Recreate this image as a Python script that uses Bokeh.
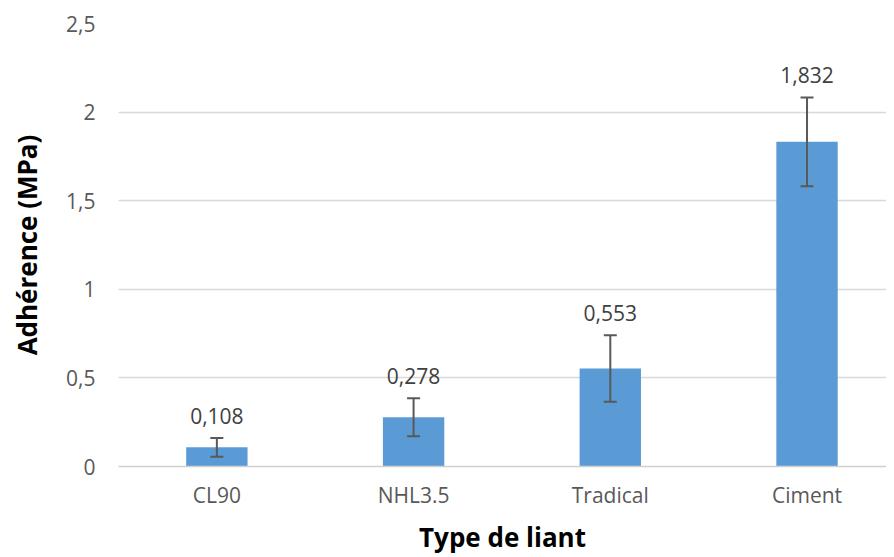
from bokeh.plotting import figure
from bokeh.models import ColumnDataSource, Range1d, FixedTicker, Whisker, TeeHead
from bokeh.core.properties import value
from bokeh.embed import file_html
from bokeh.resources import INLINE

categories = ["CL90", "NHL3.5", "Tradical", "Ciment"]
adherence = [0.108, 0.278, 0.553, 1.832]
errors = [0.053, 0.107, 0.187, 0.251]
y_ticks = [0, 0.5, 1, 1.5, 2, 2.5]

FONT = "Open Sans"
x = list(range(len(categories)))
src = ColumnDataSource(dict(
    x=x,
    top=adherence,
    lower=[v - e for v, e in zip(adherence, errors)],
    upper=[v + e for v, e in zip(adherence, errors)],
    label=[f"{v:.3f}".replace(".", ",") for v in adherence],
))

p = figure(width=886, height=557, output_backend="svg", toolbar_location=None,
           x_range=Range1d(-0.5, 3.404), y_range=Range1d(0, 2.5),
           min_border_left=118, min_border_right=0, min_border_top=23, min_border_bottom=90)
p.outline_line_color = None
p.background_fill_color = "white"

p.vbar(x="x", top="top", width=0.312, source=src, fill_color="#5B9BD5", line_color=None)

w = Whisker(source=src, base="x", lower="lower", upper="upper",
            line_color="#595959", line_width=2, level="overlay",
            upper_head=TeeHead(size=13, line_color="#595959", line_width=2),
            lower_head=TeeHead(size=13, line_color="#595959", line_width=2))
p.add_layout(w)

p.text(x="x", y="upper", text="label", source=src, text_align="center", text_baseline="middle",
       y_offset=-22, text_font=value(FONT), text_font_size="21px", text_color="#404040")

# axes
p.xaxis.ticker = FixedTicker(ticks=x)
p.xaxis.major_label_overrides = {i: c for i, c in enumerate(categories)}
p.xaxis.axis_line_color = "#d0d0d0"
p.xaxis.axis_line_width = 1.5
p.xaxis.major_tick_line_color = None
p.xaxis.minor_tick_line_color = None
p.xaxis.major_tick_out = 0
p.xaxis.major_tick_in = 0
p.xaxis.major_label_standoff = 14
p.xaxis.major_label_text_font = FONT
p.xaxis.major_label_text_font_size = "21px"
p.xaxis.major_label_text_color = "#595959"
p.xaxis.axis_label = "Type de liant"
p.xaxis.axis_label_text_font = FONT
p.xaxis.axis_label_text_font_size = "26px"
p.xaxis.axis_label_text_font_style = "bold"
p.xaxis.axis_label_text_color = "black"
p.xaxis.axis_label_standoff = 7

p.yaxis.ticker = FixedTicker(ticks=y_ticks)
p.yaxis.major_label_overrides = {t: (str(t).replace(".", ",") if t != int(t) else str(int(t))) for t in y_ticks}
p.yaxis.axis_line_color = None
p.yaxis.major_tick_line_color = None
p.yaxis.minor_tick_line_color = None
p.yaxis.major_tick_out = 0
p.yaxis.major_tick_in = 0
p.yaxis.major_label_standoff = 23
p.yaxis.major_label_text_font = FONT
p.yaxis.major_label_text_font_size = "21px"
p.yaxis.major_label_text_color = "#595959"
p.yaxis.axis_label = "Adhérence (MPa)"
p.yaxis.axis_label_text_font = FONT
p.yaxis.axis_label_text_font_size = "26px"
p.yaxis.axis_label_text_font_style = "bold"
p.yaxis.axis_label_text_color = "black"
p.yaxis.axis_label_standoff = 18

p.xgrid.grid_line_color = None
p.ygrid.grid_line_color = "#d9d9d9"
p.ygrid.grid_line_width = 1.5

open("out.html", "w").write(file_html(p, INLINE))
